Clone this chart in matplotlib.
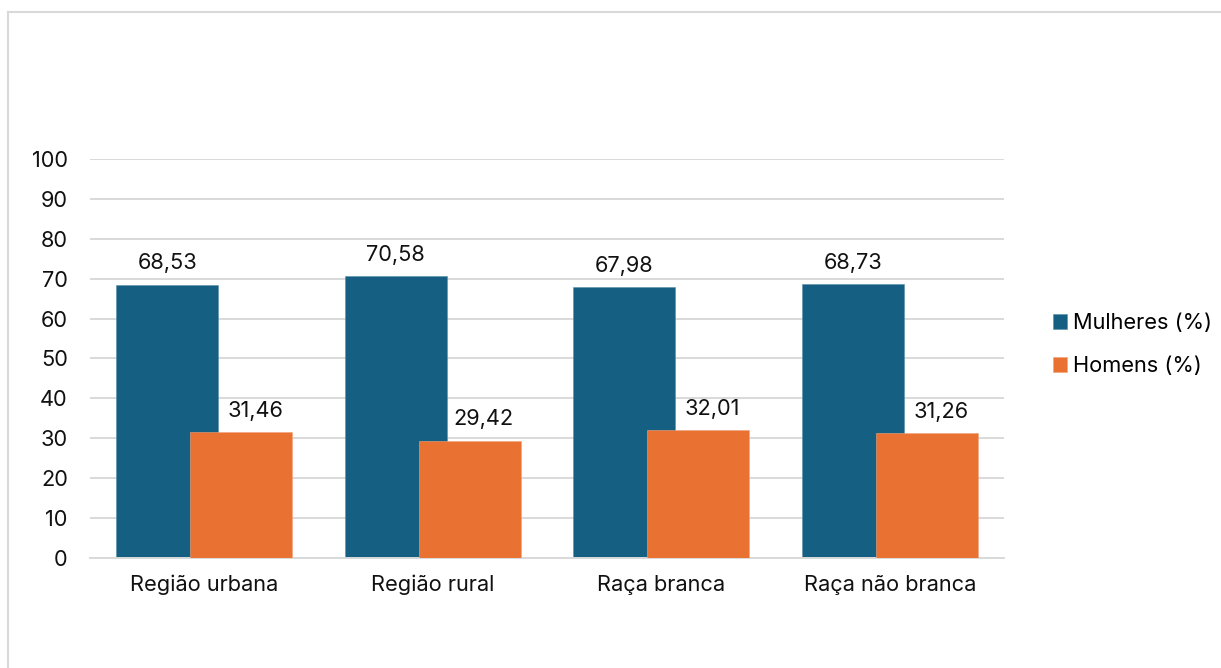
import numpy as np
import matplotlib
matplotlib.use("Agg")
import matplotlib.pyplot as plt
from matplotlib.lines import Line2D

categories = ["Região urbana", "Região rural", "Raça branca", "Raça não branca"]
mulheres = [68.53, 70.58, 67.98, 68.73]
homens = [31.46, 29.42, 32.01, 31.26]
series_names = ["Mulheres (%)", "Homens (%)"]
yticks = list(range(0, 101, 10))

BLUE = "#156082"
ORANGE = "#E97132"
GRID = "#D9D9D9"
TXT = "#111111"

plt.rcParams["font.family"] = ["Inter", "DejaVu Sans"]
FS = 15.7

fig = plt.figure(figsize=(12.21, 6.68), dpi=100)
ax = fig.add_axes([0.0737, 0.1647, 0.7486, 0.5973])

x = np.arange(len(categories))
w, off = 0.446, 0.162
b1 = ax.bar(x - off, mulheres, w, color=BLUE, edgecolor="#5a8fa8", lw=0.4, label=series_names[0], zorder=2)
b2 = ax.bar(x + off, homens, w, color=ORANGE, edgecolor="#f0a27a", lw=0.4, label=series_names[1], zorder=3)

# labels centred over the visible part of each bar (orange hides part of blue,
# so orange labels sit over the part right of the blue bar)
for r, v in zip(b1, mulheres):
    ax.annotate(f"{v:.2f}".replace(".", ","), (r.get_x() + r.get_width() / 2, v),
                xytext=(0, 8), textcoords="offset points", ha="center", va="bottom",
                fontsize=FS, color=TXT, zorder=4)
for rb, r, v in zip(b1, b2, homens):
    xc = (rb.get_x() + rb.get_width() + r.get_x() + r.get_width()) / 2
    ax.annotate(f"{v:.2f}".replace(".", ","), (xc, v),
                xytext=(0, 8), textcoords="offset points", ha="center", va="bottom",
                fontsize=FS, color=TXT, zorder=4)

ax.set_xlim(-0.5, len(categories) - 0.5)
ax.set_ylim(0, 100)
ax.set_yticks(yticks)
ax.set_xticks(x)
ax.set_xticklabels(categories)
ax.tick_params(axis="y", length=0, pad=16, labelsize=FS, labelcolor=TXT)
ax.tick_params(axis="x", length=0, pad=12, labelsize=FS, labelcolor=TXT)
ax.grid(axis="y", color=GRID, lw=1.4, zorder=0)
for s in ("top", "right", "left"):
    ax.spines[s].set_visible(False)
ax.spines["bottom"].set_color(GRID)
ax.spines["bottom"].set_linewidth(1.4)

fig.legend(handles=[b1, b2], loc="center left", bbox_to_anchor=(0.8535, 0.484), frameon=False,
           fontsize=FS, handlelength=0.63, handleheight=0.63, handletextpad=0.3,
           labelspacing=1.05, borderpad=0)

# chart frame (left and top edges visible)
fig.add_artist(Line2D([8 / 1221, 8 / 1221], [0, 1 - 12 / 668], color=GRID, lw=1.5, transform=fig.transFigure))
fig.add_artist(Line2D([8 / 1221, 1], [1 - 12 / 668, 1 - 12 / 668], color=GRID, lw=1.5, transform=fig.transFigure))

fig.savefig("out.png", dpi=100)
